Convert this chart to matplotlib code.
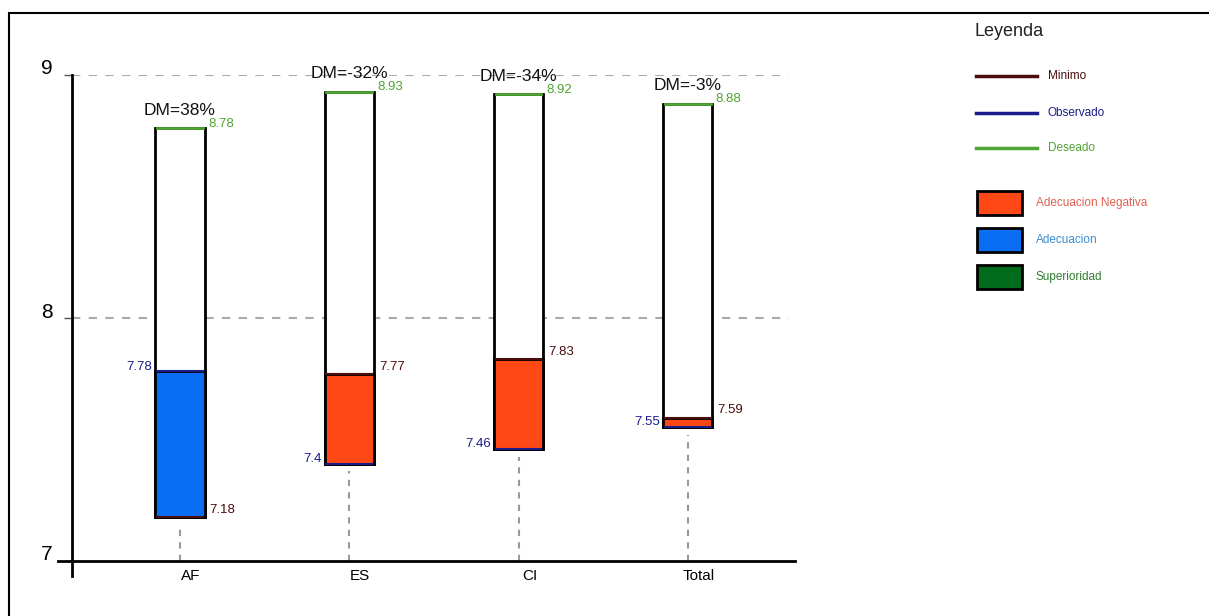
import matplotlib.pyplot as plt
import matplotlib.transforms as mtransforms
from matplotlib.patches import Rectangle
from matplotlib.lines import Line2D

plt.rcParams['font.family'] = ['Liberation Sans', 'DejaVu Sans']

categories = ['AF', 'ES', 'CI', 'Total']
minimo = [7.18, 7.77, 7.83, 7.59]
observado = [7.78, 7.4, 7.46, 7.55]
deseado = [8.78, 8.93, 8.92, 8.88]
dm_labels = ['DM=38%', 'DM=-32%', 'DM=-34%', 'DM=-3%']

c_min = '#4a0d0d'
c_obs = '#1b1b8a'
c_des = '#4fa533'
c_neg = '#ff4815'
c_ade = '#0a6ef5'
c_sup = '#006b1b'

fig = plt.figure(figsize=(12.09, 6.16), dpi=100)
ax = fig.add_axes([72 / 1209, 1 - 561 / 616, (795 - 72) / 1209, (561 - 75) / 616])

ax.set_xlim(-0.638, 3.633)
ax.set_ylim(7, 9)
for s in ax.spines.values():
    s.set_visible(False)

# axis lines (overshooting a bit, as in the original)
ax.plot([-0.638, -0.638], [6.94, 9], color='black', lw=2, clip_on=False)
ax.plot([-0.72, 3.633], [7, 7], color='black', lw=2, clip_on=False)

for g in [8, 9]:
    ax.plot([-0.638, 3.6], [g, g], color='#aaaaaa', lw=1.5, ls=(0, (4, 4)), zorder=0)

w = 0.29
for i, cat in enumerate(categories):
    mn, ob, de = minimo[i], observado[i], deseado[i]
    low = min(mn, ob)
    # dashed guide to the axis
    ax.plot([i, i], [7, low - 0.03], color='#999999', lw=1.5, ls=(0, (3, 3)), zorder=1)
    # outer bar
    ax.add_patch(Rectangle((i - w / 2, low), w, de - low, facecolor='white',
                           edgecolor='black', lw=2, zorder=2))
    # fill between minimum and observed
    if ob < mn:
        fc = c_neg
        top = mn
    elif ob <= de:
        fc = c_ade
        top = ob
    else:
        fc = c_sup
        top = ob
    ax.add_patch(Rectangle((i - w / 2, low), w, abs(mn - ob), facecolor=fc,
                           edgecolor='black', lw=2, zorder=3))
    ax.plot([i - w / 2 + 0.01, i + w / 2 - 0.01], [de, de], color=c_des, lw=2, zorder=4)
    ax.plot([i - w / 2 + 0.01, i + w / 2 - 0.01], [ob, ob], color=c_obs, lw=1.5, zorder=4)
    ax.plot([i - w / 2 + 0.01, i + w / 2 - 0.01], [mn, mn], color=c_min, lw=1.5, zorder=4)

    ax.text(i, de + 0.045, dm_labels[i], ha='center', va='bottom', fontsize=12.5, color='#111111')
    ax.text(i + w / 2 + 0.02, de + 0.02, f'{de:g}', ha='left', va='center', fontsize=9.5, color=c_des)
    ax.text(i + w / 2 + 0.03, mn + 0.03, f'{mn:g}', ha='left', va='center', fontsize=9.5, color=c_min)
    ax.text(i - w / 2 - 0.02, ob + 0.02, f'{ob:g}', ha='right', va='center', fontsize=9.5, color=c_obs)

ax.set_xticks(range(len(categories)))
ax.set_xticklabels(categories, fontsize=11)
ax.tick_params(axis='x', length=0, pad=6)
for lab in ax.get_xticklabels():
    lab.set_transform(lab.get_transform() + mtransforms.ScaledTranslation(11 / 100, 0, fig.dpi_scale_trans))

ax.set_yticks([7, 8, 9])
ax.set_yticklabels(['7', '8', '9'], fontsize=15)
ax.tick_params(axis='y', length=6, width=1, color='#555555', pad=8)
for lab in ax.get_yticklabels():
    lab.set_transform(lab.get_transform() + mtransforms.ScaledTranslation(0, 8 / 100, fig.dpi_scale_trans))

# legend panel
def fx(px):
    return px / 1209

def fy(py):
    return 1 - py / 616

fig.text(fx(975), fy(32), 'Leyenda', fontsize=13, va='center', ha='left', color='#222222')
for y, col, name in [(76, c_min, 'Minimo'), (113, c_obs, 'Observado'), (148, c_des, 'Deseado')]:
    fig.add_artist(Line2D([fx(976), fx(1037)], [fy(y), fy(y)], color=col, lw=2.5))
    fig.text(fx(1048), fy(y), name, fontsize=8.5, va='center', ha='left', color=col)

for y, col, tcol, name in [(203, c_neg, '#e0604f', 'Adecuacion Negativa'),
                           (240, c_ade, '#3a8fd6', 'Adecuacion'),
                           (277, c_sup, '#2f7d2f', 'Superioridad')]:
    fig.add_artist(Rectangle((fx(977), fy(y + 12)), fx(45), 24 / 616, facecolor=col,
                             edgecolor='black', lw=2))
    fig.text(fx(1036), fy(y), name, fontsize=8.5, va='center', ha='left', color=tcol)

# outer frame
fig.add_artist(Rectangle((fx(9), -0.05), 1.1, fy(13) + 0.05, facecolor='none',
                         edgecolor='black', lw=1.5))

fig.savefig('out.png', dpi=100)
